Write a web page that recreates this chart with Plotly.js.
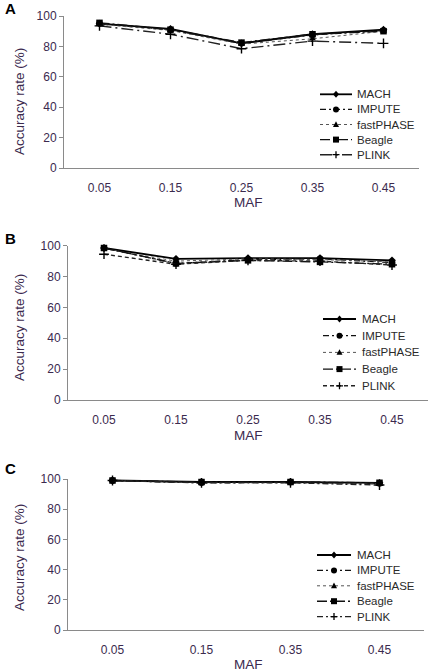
<!DOCTYPE html>
<html>
<head>
<meta charset="utf-8">
<script src="https://cdn.plot.ly/plotly-3.0.1.min.js"></script>
<style>html,body{margin:0;padding:0;background:#fff;}#chart{width:430px;height:672px;}</style>
</head>
<body>
<div id="chart"></div>
<script>
// ---- data ----
const seriesNames = ["MACH", "IMPUTE", "fastPHASE", "Beagle", "PLINK"];

const mafA = ["0.05", "0.15", "0.25", "0.35", "0.45"];
const machA = [95, 91.5, 82, 88, 91];
const imputeA = [95, 91, 82, 87.5, 90.5];
const fastphaseA = [94.5, 90.5, 81.5, 85, 90];
const beagleA = [95.5, 91, 82.5, 88, 90];
const plinkA = [93.5, 88, 78.5, 83.5, 82];

const mafB = ["0.05", "0.15", "0.25", "0.35", "0.45"];
const machB = [98.5, 91.5, 92, 92, 90.5];
const imputeB = [98.5, 88.5, 91, 91.5, 89];
const fastphaseB = [98, 90, 91.5, 91, 89.5];
const beagleB = [98.5, 88.5, 90.5, 89.5, 88];
const plinkB = [94.5, 88, 90.5, 90, 87.5];

const mafC = ["0.05", "0.15", "0.35", "0.45"];
const machC = [99, 98, 98, 97.5];
const imputeC = [99, 97.5, 98, 97];
const fastphaseC = [99, 97.5, 97.5, 96.5];
const beagleC = [99, 98, 98, 97.5];
const plinkC = [99, 97.5, 97.5, 96];

const yTicks = [0, 20, 40, 60, 80, 100];
const panelLabels = ["A", "B", "C"];
const yTitle = "Accuracy rate (%)";
const xTitle = "MAF";

// ---- styles ----
const W = 430, H = 672;
const textColor = "#3b2a4e";
const axisColor = "#8a8a8a";
const font = "Liberation Sans, Arial, sans-serif";

function styles(plinkDash) {
  return [
    {dash: "solid", width: 1.8, color: "#000", symbol: "diamond", size: 6},
    {dash: "6px,3px,2px,3px", width: 1.3, color: "#111", symbol: "circle", size: 6.5},
    {dash: "dot", width: 1, color: "#555", symbol: "triangle-up", size: 6},
    {dash: "10px,3px,2px,3px", width: 1.4, color: "#111", symbol: "square", size: 6.5},
    {dash: plinkDash, width: 1.4, color: "#222", symbol: "cross-thin-open", size: 7}
  ];
}

const panels = [
  {x: mafA, ys: [machA, imputeA, fastphaseA, beagleA, plinkA], plinkDash: "12px,4px,2px,4px",
   top: 16, bottom: 168, left: 64, right: 419,
   leg: {x0: 320, x1: 352, tx: 355, y0: 94.3, step: 15.1},
   labelY: 9, xTitleY: 203, yTitleY: 102},
  {x: mafB, ys: [machB, imputeB, fastphaseB, beagleB, plinkB], plinkDash: "4px,3px",
   top: 245.7, bottom: 400, left: 68, right: 428,
   leg: {x0: 323, x1: 356, tx: 360, y0: 319, step: 16.7},
   labelY: 239, xTitleY: 435, yTitleY: 328},
  {x: mafC, ys: [machC, imputeC, fastphaseC, beagleC, plinkC], plinkDash: "6px,3px,2px,3px",
   top: 479, bottom: 630, left: 68, right: 424,
   leg: {x0: 317, x1: 351, tx: 355, y0: 555, step: 15.4},
   labelY: 468, xTitleY: 664, yTitleY: 558}
];

const px = v => v / W;
const py = v => 1 - v / H;

const data = [];
const layout = {
  width: W, height: H,
  margin: {l: 0, r: 0, t: 0, b: 0},
  paper_bgcolor: "#fff", plot_bgcolor: "#fff",
  font: {family: font, size: 12, color: textColor},
  annotations: [],
  shapes: [],
  showlegend: false
};

function legendMarker(symbol, cx, cy) {
  const base = {xref: "paper", yref: "paper", layer: "above"};
  if (symbol === "diamond") {
    return Object.assign(base, {type: "path", fillcolor: "#000", line: {width: 0},
      path: `M${px(cx)},${py(cy - 3.5)} L${px(cx + 3)},${py(cy)} L${px(cx)},${py(cy + 3.5)} L${px(cx - 3)},${py(cy)} Z`});
  }
  if (symbol === "circle") {
    return Object.assign(base, {type: "circle", fillcolor: "#000", line: {width: 0},
      x0: px(cx - 3), x1: px(cx + 3), y0: py(cy + 3), y1: py(cy - 3)});
  }
  if (symbol === "triangle-up") {
    return Object.assign(base, {type: "path", fillcolor: "#000", line: {width: 0},
      path: `M${px(cx)},${py(cy - 3.2)} L${px(cx + 3)},${py(cy + 2.4)} L${px(cx - 3)},${py(cy + 2.4)} Z`});
  }
  if (symbol === "square") {
    return Object.assign(base, {type: "rect", fillcolor: "#000", line: {width: 0},
      x0: px(cx - 3), x1: px(cx + 3), y0: py(cy + 3), y1: py(cy - 3)});
  }
  return Object.assign(base, {type: "path", line: {color: "#000", width: 1.3},
    path: `M${px(cx - 3.5)},${py(cy)} L${px(cx + 3.5)},${py(cy)} M${px(cx)},${py(cy - 3.5)} L${px(cx)},${py(cy + 3.5)}`});
}

panels.forEach((p, i) => {
  const n = i === 0 ? "" : String(i + 1);
  const st = styles(p.plinkDash);
  seriesNames.forEach((name, k) => {
    const s = st[k];
    data.push({
      type: "scatter", mode: "lines+markers", name: name,
      x: p.x, y: p.ys[k],
      xaxis: "x" + n, yaxis: "y" + n,
      line: {color: s.color, width: s.width, dash: s.dash},
      marker: {symbol: s.symbol, size: s.size, color: "#000",
               line: {color: "#000", width: s.symbol === "cross-thin-open" ? 1.4 : 0}},
      cliponaxis: false
    });
    // legend entry (layout decoration)
    const ly = p.leg.y0 + k * p.leg.step;
    layout.shapes.push({type: "line", xref: "paper", yref: "paper",
      x0: px(p.leg.x0), x1: px(p.leg.x1), y0: py(ly), y1: py(ly),
      line: {color: s.color, width: s.width, dash: s.dash}});
    layout.shapes.push(legendMarker(s.symbol, (p.leg.x0 + p.leg.x1) / 2, ly));
    layout.annotations.push({text: name, xref: "paper", yref: "paper",
      x: px(p.leg.tx), y: py(ly), xanchor: "left", yanchor: "middle",
      showarrow: false, font: {family: font, size: 11.5, color: "#2a2a2a"}});
  });
  layout["xaxis" + n] = {
    domain: [p.left / W, p.right / W],
    anchor: "y" + n,
    type: "category",
    range: [-0.5, p.x.length - 0.5],
    showline: true, linecolor: axisColor, linewidth: 1,
    showgrid: false, zeroline: false,
    ticks: "outside", ticklen: 9, tickcolor: "rgba(0,0,0,0)",
    tickfont: {family: font, size: 12, color: textColor},
    fixedrange: true
  };
  layout["yaxis" + n] = {
    domain: [1 - p.bottom / H, 1 - p.top / H],
    anchor: "x" + n,
    range: [0, 100],
    tickvals: yTicks,
    showline: true, linecolor: axisColor, linewidth: 1,
    showgrid: false, zeroline: false,
    ticks: "outside", ticklen: 4, tickcolor: axisColor,
    tickfont: {family: font, size: 12, color: textColor},
    fixedrange: true
  };
  layout.annotations.push({
    text: "<b>" + panelLabels[i] + "</b>", xref: "paper", yref: "paper",
    x: px(10), y: py(p.labelY), xanchor: "center", yanchor: "middle",
    showarrow: false, font: {family: font, size: 15, color: "#000"}
  });
  layout.annotations.push({
    text: yTitle, xref: "paper", yref: "paper", textangle: -90,
    x: px(19), y: py(p.yTitleY), xanchor: "center", yanchor: "middle",
    showarrow: false, font: {family: font, size: 13.5, color: textColor}
  });
  layout.annotations.push({
    text: xTitle, xref: "paper", yref: "paper",
    x: px(248), y: py(p.xTitleY), xanchor: "center", yanchor: "middle",
    showarrow: false, font: {family: font, size: 13.5, color: textColor}
  });
});

Plotly.newPlot("chart", data, layout, {displayModeBar: false, staticPlot: true});
</script>
</body>
</html>
